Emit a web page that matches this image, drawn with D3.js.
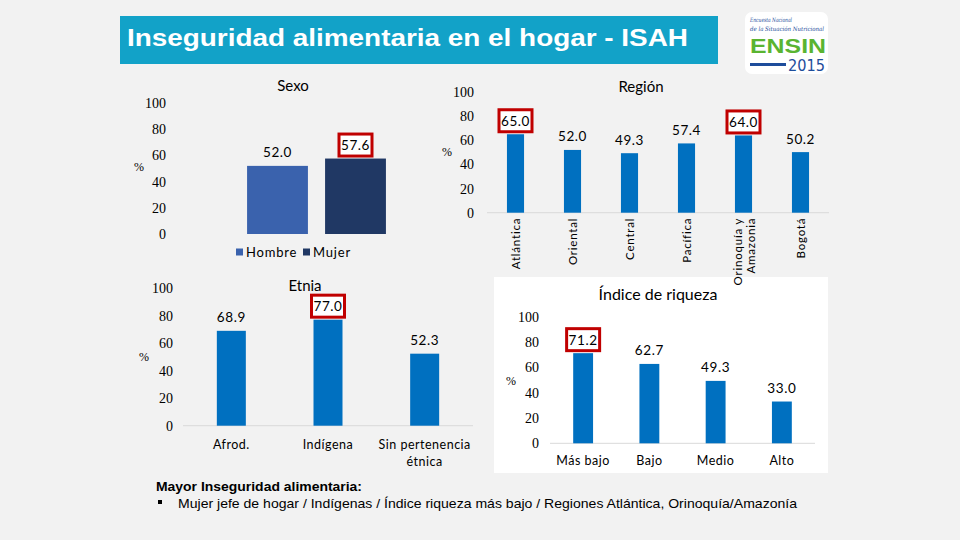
<!DOCTYPE html>
<html><head><meta charset="utf-8">
<script src="https://cdn.jsdelivr.net/npm/d3@7"></script>
<style>
html,body{margin:0;padding:0;background:#f2f2f2;}
svg{display:block;}
</style></head>
<body>
<svg id="c" width="960" height="540"></svg>
<script>
// ---------- data ----------
const yTicks = [0, 20, 40, 60, 80, 100];

const sexoCats = ["Hombre", "Mujer"];
const sexoVals = [52.0, 57.6];
const sexoHighlight = ["Mujer"];

const regionCats = ["Atlántica", "Oriental", "Central", "Pacífica", "Orinoquía y|Amazonia", "Bogotá"];
const regionVals = [65.0, 52.0, 49.3, 57.4, 64.0, 50.2];
const regionHighlight = ["Atlántica", "Orinoquía y|Amazonia"];

const etniaCats = ["Afrod.", "Indígena", "Sin pertenencia|étnica"];
const etniaVals = [68.9, 77.0, 52.3];
const etniaHighlight = ["Indígena"];

const riquezaCats = ["Más bajo", "Bajo", "Medio", "Alto"];
const riquezaVals = [71.2, 62.7, 49.3, 33.0];
const riquezaHighlight = ["Más bajo"];

const titleText = "Inseguridad alimentaria en el hogar - ISAH";
const noteTitle = "Mayor Inseguridad alimentaria:";
const noteText = "Mujer jefe de hogar / Indígenas / Índice riqueza más bajo / Regiones Atlántica, Orinoquía/Amazonía";

// ---------- styles ----------
const BLUE = "#0070c0";
const RED = "#c00000";
const CAL = "Lato, 'Open Sans', sans-serif";
const SERIF = "'Liberation Serif', 'DejaVu Serif', serif";

const svg = d3.select("#c");
svg.append("rect").attr("width", 960).attr("height", 540).attr("fill", "#f2f2f2");

// title bar
svg.append("rect").attr("x", 120).attr("y", 16).attr("width", 598).attr("height", 48).attr("fill", "#12a2c8");
svg.append("text").attr("x", 127).attr("y", 46)
  .attr("font-family", "'Liberation Sans', Arial, sans-serif").attr("font-weight", "bold")
  .attr("font-size", 23).attr("fill", "#fff")
  .attr("textLength", 561).attr("lengthAdjust", "spacingAndGlyphs")
  .text(titleText);

// logo
const logo = svg.append("g");
logo.append("rect").attr("x", 745).attr("y", 12).attr("width", 83).attr("height", 62).attr("rx", 7).attr("fill", "#fff");
logo.append("text").attr("x", 750).attr("y", 22).attr("font-family", "'DejaVu Serif', serif").attr("font-style", "italic")
  .attr("font-size", 6).attr("fill", "#1e4d9b").attr("textLength", 42).attr("lengthAdjust", "spacingAndGlyphs").text("Encuesta Nacional");
logo.append("text").attr("x", 750).attr("y", 31).attr("font-family", "'DejaVu Serif', serif").attr("font-style", "italic")
  .attr("font-size", 6).attr("fill", "#1e4d9b").attr("textLength", 74).attr("lengthAdjust", "spacingAndGlyphs").text("de la Situación Nutricional");
logo.append("text").attr("x", 750).attr("y", 53).attr("font-family", "'Liberation Sans', Arial, sans-serif").attr("font-weight", "bold")
  .attr("font-size", 21).attr("fill", "#5ab431").attr("textLength", 76).attr("lengthAdjust", "spacingAndGlyphs").text("ENSIN");
logo.append("rect").attr("x", 750).attr("y", 63).attr("width", 36).attr("height", 3).attr("fill", "#1e4d9b");
logo.append("text").attr("x", 788).attr("y", 71).attr("font-family", "'DejaVu Sans', sans-serif")
  .attr("font-size", 15).attr("fill", "#1e4d9b").attr("textLength", 37).attr("lengthAdjust", "spacingAndGlyphs").text("2015");

// white panel behind Índice de riqueza
svg.append("rect").attr("x", 494).attr("y", 277).attr("width", 334).attr("height", 196).attr("fill", "#fff");

// ---------- generic panel ----------
function panel(o) {
  const g = svg.append("g");
  const x = d3.scaleBand().domain(o.cats).range(o.xr).paddingInner(o.pi).paddingOuter(o.po);
  const y = d3.scaleLinear().domain([0, 100]).range(o.yr);

  // y axis (labels only)
  const ax = g.append("g").attr("transform", `translate(${o.tickX},0)`)
    .call(d3.axisLeft(y).tickValues(yTicks).tickSize(0).tickPadding(0).tickFormat(d3.format("d")));
  ax.select(".domain").remove();
  ax.attr("font-family", null);
  ax.selectAll("text").style("font-family", SERIF).style("font-size", "14px").attr("fill", "#000");

  // % label
  g.append("text").attr("x", o.pctX).attr("y", o.pctY).attr("text-anchor", "middle").attr("dominant-baseline", "central")
    .style("font-family", SERIF).attr("font-size", 12).attr("fill", "#000").text("%");

  // baseline
  if (o.baseline) {
    g.append("line").attr("x1", o.xr[0]).attr("x2", o.xr[1]).attr("y1", y(0)).attr("y2", y(0))
      .attr("stroke", "#d9d9d9").attr("stroke-width", 1);
  }

  // bars
  g.selectAll("rect.bar").data(o.cats).join("rect").attr("class", "bar")
    .attr("x", d => x(d)).attr("width", x.bandwidth())
    .attr("y", (d, i) => y(o.vals[i])).attr("height", (d, i) => y(0) - y(o.vals[i]))
    .attr("fill", (d, i) => o.colors ? o.colors[i] : BLUE);

  // value labels
  o.cats.forEach((c, i) => {
    const cx = x(c) + x.bandwidth() / 2;
    const cy = y(o.vals[i]) - 13.5;
    if (o.hi.includes(c)) {
      g.append("rect").attr("x", cx - 16.5).attr("y", cy - 11).attr("width", 33).attr("height", 22)
        .attr("fill", "#fff").attr("stroke", RED).attr("stroke-width", 3);
    }
    g.append("text").attr("x", cx).attr("y", cy).attr("text-anchor", "middle").attr("dominant-baseline", "central")
      .attr("font-family", CAL).attr("font-size", 13.5).attr("letter-spacing", 0.6).attr("fill", "#000")
      .text(o.vals[i].toFixed(1));
  });

  // category labels
  if (o.catLabels === "rot") {
    o.cats.forEach(c => {
      const lines = c.split("|");
      const cx = x(c) + x.bandwidth() / 2;
      lines.forEach((ln, j) => {
        const off = (j - (lines.length - 1) / 2) * 13;
        g.append("text").attr("transform", `translate(${cx + off},${y(0) + 5}) rotate(-90)`)
          .attr("text-anchor", "end").attr("dominant-baseline", "central")
          .attr("font-family", CAL).attr("font-size", 11.5).attr("letter-spacing", 0.8).attr("fill", "#000").text(ln);
      });
    });
  } else if (o.catLabels === "below") {
    o.cats.forEach(c => {
      const lines = c.split("|");
      const cx = x(c) + x.bandwidth() / 2;
      lines.forEach((ln, j) => {
        g.append("text").attr("x", cx).attr("y", o.catY + j * 17).attr("text-anchor", "middle").attr("dominant-baseline", "central")
          .attr("font-family", CAL).attr("font-size", 12.5).attr("letter-spacing", 0.5).attr("fill", "#000").text(ln);
      });
    });
  }

  // title
  g.append("text").attr("x", o.titleX).attr("y", o.titleY).attr("text-anchor", "middle").attr("dominant-baseline", "central")
    .attr("font-family", CAL).attr("font-size", o.titleSize || 15).attr("fill", "#000").text(o.title);
  return { g, x, y };
}

// Sexo
const sexoColors = ["#3a62ad", "#203864"];
const sx = panel({
  cats: sexoCats, vals: sexoVals, hi: sexoHighlight, colors: sexoColors,
  xr: [238.5, 394.5], pi: 0.22, po: 0.11, yr: [234, 103],
  tickX: 166, pctX: 139, pctY: 167, baseline: false, catLabels: "none",
  title: "Sexo", titleX: 293, titleY: 85
});
// legend
sexoCats.forEach((c, i) => {
  const lx = [236, 303][i];
  sx.g.append("rect").attr("x", lx).attr("y", 248.5).attr("width", 7).attr("height", 7).attr("fill", sexoColors[i]);
  sx.g.append("text").attr("x", lx + 10).attr("y", 252).attr("dominant-baseline", "central")
    .attr("font-family", CAL).attr("font-size", 13).attr("letter-spacing", 0.8).attr("fill", "#000").text(c);
});

// Región
panel({
  cats: regionCats, vals: regionVals, hi: regionHighlight,
  xr: [487, 829], pi: 0.7, po: 0.35, yr: [212.7, 92],
  tickX: 474, pctX: 447, pctY: 152, baseline: true, catLabels: "rot",
  title: "Región", titleX: 641, titleY: 86
});

// Etnia
panel({
  cats: etniaCats, vals: etniaVals, hi: etniaHighlight,
  xr: [183, 473], pi: 0.7, po: 0.35, yr: [425.7, 288],
  tickX: 173, pctX: 144, pctY: 357, baseline: true, catLabels: "below", catY: 444,
  title: "Etnia", titleX: 305, titleY: 285
});

// Índice de riqueza
panel({
  cats: riquezaCats, vals: riquezaVals, hi: riquezaHighlight,
  xr: [550, 815], pi: 0.7, po: 0.35, yr: [443.3, 316.7],
  tickX: 539, pctX: 511, pctY: 381, baseline: true, catLabels: "below", catY: 460.5,
  title: "Índice de riqueza", titleX: 658, titleY: 293, titleSize: 16
});

// note
svg.append("text").attr("x", 156).attr("y", 491)
  .attr("font-family", "'Liberation Sans', Arial, sans-serif").attr("font-weight", "bold").attr("font-size", 13.5)
  .attr("fill", "#000").attr("textLength", 206).attr("lengthAdjust", "spacingAndGlyphs").text(noteTitle);
svg.append("rect").attr("x", 158).attr("y", 500).attr("width", 4).attr("height", 4).attr("fill", "#000");
svg.append("text").attr("x", 178).attr("y", 508)
  .attr("font-family", "'Liberation Sans', Arial, sans-serif").attr("font-size", 13.5)
  .attr("fill", "#000").attr("textLength", 619).attr("lengthAdjust", "spacingAndGlyphs").text(noteText);
</script>
</body></html>
